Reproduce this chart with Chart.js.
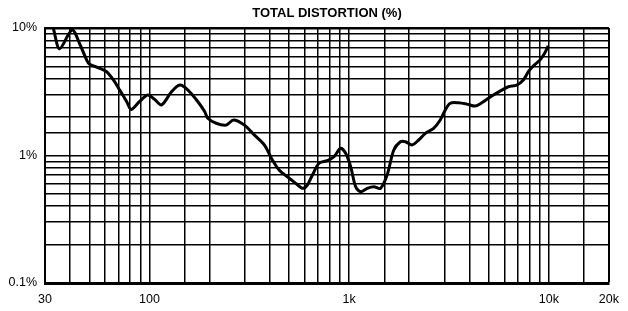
<!DOCTYPE html>
<html>
<head>
<meta charset="utf-8">
<style>
    html, body { margin: 0; padding: 0; background: #fff; }
    #distChart { display: block; }
</style>
<script src="https://cdn.jsdelivr.net/npm/chart.js@4.4.1/dist/chart.umd.min.js"></script>
</head>
<body>
<canvas id="distChart" width="628" height="311"></canvas>
<script>
// 측정 데이터 (주파수 Hz / 왜율 %)
const freqHz = [
    33, 35.5, 41, 45, 48.5, 50, 56.5, 61, 66, 71,
    77, 81, 89, 98, 106, 115, 129, 142, 156, 175,
    189, 196, 216, 242, 264, 299, 335, 376, 413, 446,
    501, 541, 584, 618, 655, 707, 778, 840, 907, 961,
    1018, 1078, 1141, 1232, 1330, 1436, 1550, 1674, 1808, 1915,
    2065, 2230, 2410, 2650, 2860, 3030, 3210, 3530, 3885, 4280,
    4620, 5180, 5700, 6270, 6900, 7460, 7900, 8360, 9030, 9560,
    9930
];
const distortionPct = [
    10, 6.88, 9.65, 7.36, 5.61, 5.22, 4.83, 4.54, 3.91, 3.26,
    2.64, 2.30, 2.64, 2.98, 2.76, 2.49, 3.16, 3.57, 3.26, 2.64,
    2.21, 1.96, 1.79, 1.73, 1.90, 1.73, 1.45, 1.21, 0.922, 0.770,
    0.663, 0.605, 0.553, 0.587, 0.703, 0.869, 0.910, 0.979, 1.139, 1.04,
    0.818, 0.569, 0.520, 0.553, 0.569, 0.553, 0.703, 1.104, 1.283, 1.283,
    1.21, 1.323, 1.493, 1.634, 1.90, 2.275, 2.57, 2.59, 2.53, 2.44,
    2.59, 2.93, 3.20, 3.46, 3.57, 3.91, 4.54, 5.04, 5.61, 6.40,
    7.22
];

// 축 라벨
const xLabels = { 30: '30', 100: '100', 1000: '1k', 10000: '10k', 20000: '20k' };
const yLabels = { 0.1: '0.1%', 1: '1%', 10: '10%' };

function findLabel(map, value) {
    for (const key of Object.keys(map)) {
        if (Math.abs(value - Number(key)) < Number(key) * 1e-6) return map[key];
    }
    return '';
}

Chart.defaults.font.family = "'Liberation Sans', Arial, sans-serif";
Chart.defaults.color = '#000';

const ctx = document.getElementById('distChart').getContext('2d');

new Chart(ctx, {
    type: 'scatter',
    data: {
        datasets: [{
            label: 'Total distortion',
            data: freqHz.map((f, i) => ({ x: f, y: distortionPct[i] })),
            showLine: true,
            borderColor: '#000',
            borderWidth: 3,
            pointRadius: 0,
            tension: 0.3
        }]
    },
    options: {
        responsive: false,
        animation: false,
        layout: {
            padding: { left: 0, right: 17, top: 0, bottom: 0 }
        },
        plugins: {
            legend: { display: false },
            tooltip: { enabled: false },
            title: {
                display: true,
                text: 'TOTAL DISTORTION (%)',
                fullSize: false,
                color: '#000',
                font: { size: 13, weight: 'bold', lineHeight: 1.2 },
                padding: { top: 6, bottom: 6.4 }
            }
        },
        scales: {
            x: {
                type: 'logarithmic',
                min: 30,
                max: 20000,
                afterFit: (scale) => { scale.height = 28; },
                grid: {
                    color: '#000',
                    lineWidth: (c) => (c.tick && c.tick.value === 20000 ? 2 : 1.5),
                    drawTicks: false
                },
                border: { display: true, color: '#000', width: 3 },
                ticks: {
                    autoSkip: false,
                    maxRotation: 0,
                    padding: 9,
                    font: { size: 12.5 },
                    callback: (value) => findLabel(xLabels, value)
                }
            },
            y: {
                type: 'logarithmic',
                min: 0.1,
                max: 10,
                afterFit: (scale) => { scale.width = 45; },
                grid: {
                    color: '#000',
                    lineWidth: (c) => (c.tick && c.tick.value === 10 ? 2.5 : 1.5),
                    drawTicks: false
                },
                border: { display: true, color: '#000', width: 2 },
                ticks: {
                    autoSkip: false,
                    padding: 8,
                    font: { size: 12.5 },
                    callback: (value) => findLabel(yLabels, value)
                }
            }
        }
    }
});
</script>
</body>
</html>
